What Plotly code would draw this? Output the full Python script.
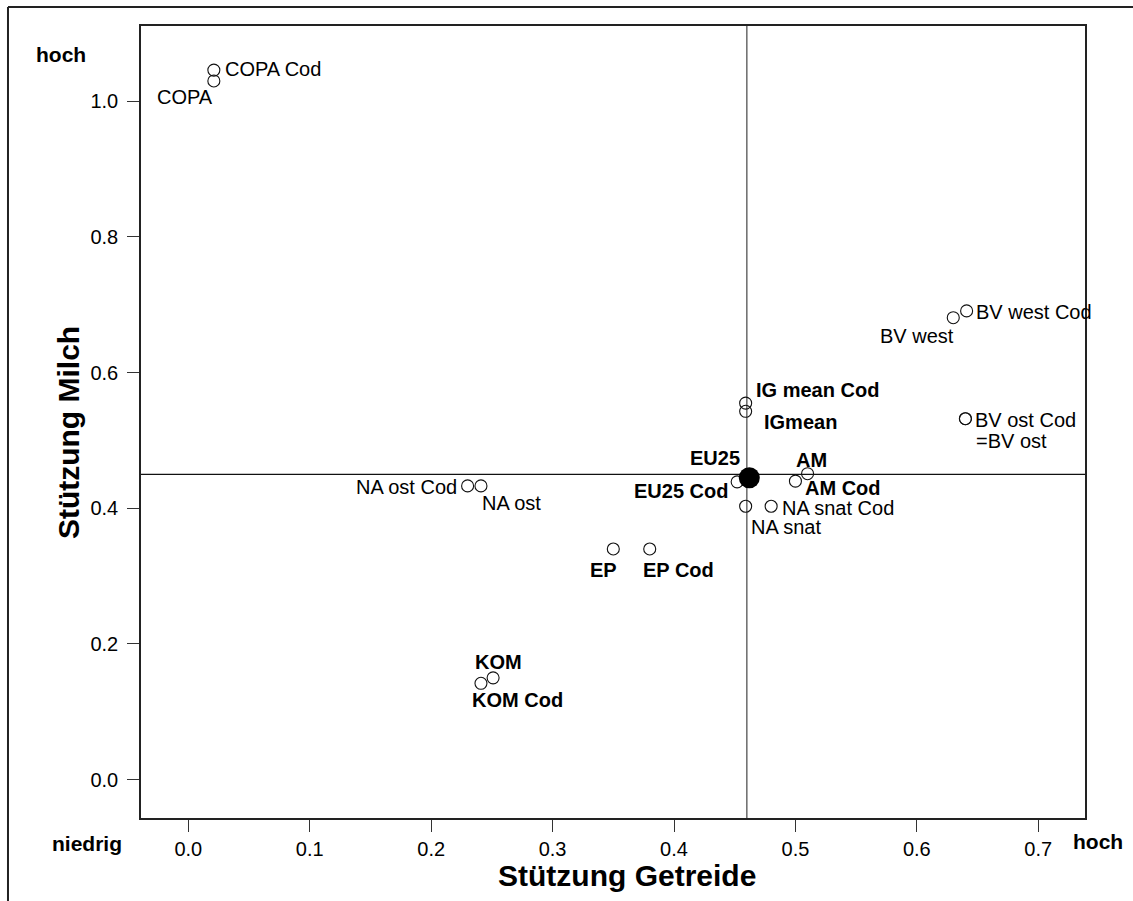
import plotly.graph_objects as go

# Positions of the actors: support for cereals (x) vs. support for milk (y)
actors = ["COPA Cod", "COPA", "BV west Cod", "BV west", "BV ost Cod", "BV ost",
          "IG mean Cod", "IGmean", "EU25", "EU25 Cod", "AM", "AM Cod",
          "NA snat Cod", "NA snat", "NA ost Cod", "NA ost", "EP", "EP Cod",
          "KOM", "KOM Cod"]
label_text = ["COPA Cod", "COPA", "BV west Cod", "BV west", "BV ost Cod", "=BV ost",
              "IG mean Cod", "IGmean", "EU25", "EU25 Cod", "AM", "AM Cod",
              "NA snat Cod", "NA snat", "NA ost Cod", "NA ost", "EP", "EP Cod",
              "KOM", "KOM Cod"]
getreide = [0.021, 0.021, 0.641, 0.630, 0.640, 0.640,
            0.459, 0.459, 0.462, 0.452, 0.510, 0.500,
            0.480, 0.459, 0.230, 0.241, 0.350, 0.380,
            0.251, 0.241]
milch = [1.046, 1.030, 0.691, 0.681, 0.532, 0.532,
         0.555, 0.543, 0.445, 0.439, 0.451, 0.440,
         0.403, 0.403, 0.433, 0.433, 0.340, 0.340,
         0.150, 0.142]

# Reference lines (overall mean)
mean_getreide = 0.46
mean_milch = 0.45

x_ticks = [0.0, 0.1, 0.2, 0.3, 0.4, 0.5, 0.6, 0.7]
y_ticks = [0.0, 0.2, 0.4, 0.6, 0.8, 1.0]

highlight = "EU25"
bold_labels = {"IG mean Cod", "IGmean", "EU25", "EU25 Cod", "AM", "AM Cod",
               "EP", "EP Cod", "KOM", "KOM Cod"}

# label placement: (xanchor, xshift px, yshift px)
placement = {
    "COPA Cod": ("left", 10, 1),
    "COPA": ("right", 0, -16),
    "BV west Cod": ("left", 8, -1),
    "BV west": ("right", 2, -18),
    "BV ost Cod": ("left", 9, -1),
    "BV ost": ("left", 10, -22),
    "IG mean Cod": ("left", 9, 13),
    "IGmean": ("left", 17, -11),
    "EU25": ("right", -8, 20),
    "EU25 Cod": ("right", -8, -9),
    "AM": ("center", 4, 14),
    "AM Cod": ("left", 9, -7),
    "NA snat Cod": ("left", 10, -2),
    "NA snat": ("left", 4, -21),
    "NA ost Cod": ("right", -10, -1),
    "NA ost": ("left", 0, -17),
    "EP": ("center", -10, -21),
    "EP Cod": ("left", -8, -21),
    "KOM": ("left", -19, 16),
    "KOM Cod": ("left", -10, -17),
}

FONT = "Liberation Sans, Arial, sans-serif"
INK = "#111111"

fig = go.Figure()

ox = [x for a, x in zip(actors, getreide) if a != highlight]
oy = [y for a, y in zip(actors, milch) if a != highlight]
fig.add_trace(go.Scatter(
    x=ox, y=oy, mode="markers",
    marker=dict(symbol="circle-open", size=12, color=INK, line=dict(width=1.1)),
    hoverinfo="skip", showlegend=False))

hx = [x for a, x in zip(actors, getreide) if a == highlight]
hy = [y for a, y in zip(actors, milch) if a == highlight]
fig.add_trace(go.Scatter(
    x=hx, y=hy, mode="markers",
    marker=dict(symbol="circle", size=21, color="black"),
    hoverinfo="skip", showlegend=False))

# mean lines
fig.add_shape(type="line", xref="x", yref="paper", x0=mean_getreide, x1=mean_getreide,
              y0=0, y1=1, line=dict(color="#444444", width=1.2), layer="below")
fig.add_shape(type="line", xref="paper", yref="y", x0=0, x1=1,
              y0=mean_milch, y1=mean_milch, line=dict(color="#111111", width=1.2), layer="below")

# outer frame (top and left edges)
fig.add_shape(type="line", xref="paper", yref="paper", x0=-0.1409, x1=1.06,
              y0=1.024, y1=1.024, line=dict(color="#222222", width=2))
fig.add_shape(type="line", xref="paper", yref="paper", x0=-0.1409, x1=-0.1409,
              y0=1.024, y1=-0.12, line=dict(color="#222222", width=2))

for a, t, x, y in zip(actors, label_text, getreide, milch):
    xa, xs, ys = placement[a]
    txt = f"<b>{t}</b>" if a in bold_labels else t
    fig.add_annotation(x=x, y=y, text=txt, showarrow=False, xanchor=xa, yanchor="middle",
                       xshift=xs, yshift=ys, borderpad=0,
                       font=dict(family=FONT, size=20, color="black"))

# axis titles and scale ends
fig.add_annotation(x=0.5148, y=-0.0732, xref="paper", yref="paper", showarrow=False,
                   text="<b>Stützung Getreide</b>", xanchor="center", yanchor="middle",
                   font=dict(family=FONT, size=30, color="black"))
fig.add_annotation(x=-0.0773, y=0.486, xref="paper", yref="paper", showarrow=False,
                   text="<b>Stützung Milch</b>", textangle=-90, xanchor="center", yanchor="middle",
                   font=dict(family=FONT, size=30, color="black"))
fig.add_annotation(x=-0.0847, y=0.9646, xref="paper", yref="paper", showarrow=False,
                   text="<b>hoch</b>", xanchor="center", yanchor="middle",
                   font=dict(family=FONT, size=21, color="black"))
fig.add_annotation(x=-0.0572, y=-0.0328, xref="paper", yref="paper", showarrow=False,
                   text="<b>niedrig</b>", xanchor="center", yanchor="middle",
                   font=dict(family=FONT, size=21, color="black"))
fig.add_annotation(x=1.0142, y=-0.0301, xref="paper", yref="paper", showarrow=False,
                   text="<b>hoch</b>", xanchor="center", yanchor="middle",
                   font=dict(family=FONT, size=21, color="black"))

axis_common = dict(showline=True, mirror=True, linecolor="#222222", linewidth=1.5,
                   ticks="outside", ticklen=12, tickwidth=1, tickcolor="#333333",
                   showgrid=False, zeroline=False, tickformat=".1f",
                   tickfont=dict(family=FONT, size=20, color="black"))

fig.update_xaxes(range=[-0.039, 0.7385], tickvals=x_ticks, **axis_common)
fig.update_yaxes(range=[-0.0566, 1.111], tickvals=y_ticks, ticklabelstandoff=5,
                 **axis_common)

fig.update_layout(width=1133, height=901,
                  margin=dict(l=141, r=48, t=26, b=83),
                  paper_bgcolor="white", plot_bgcolor="white",
                  font=dict(family=FONT))

fig.write_html("out.html")
